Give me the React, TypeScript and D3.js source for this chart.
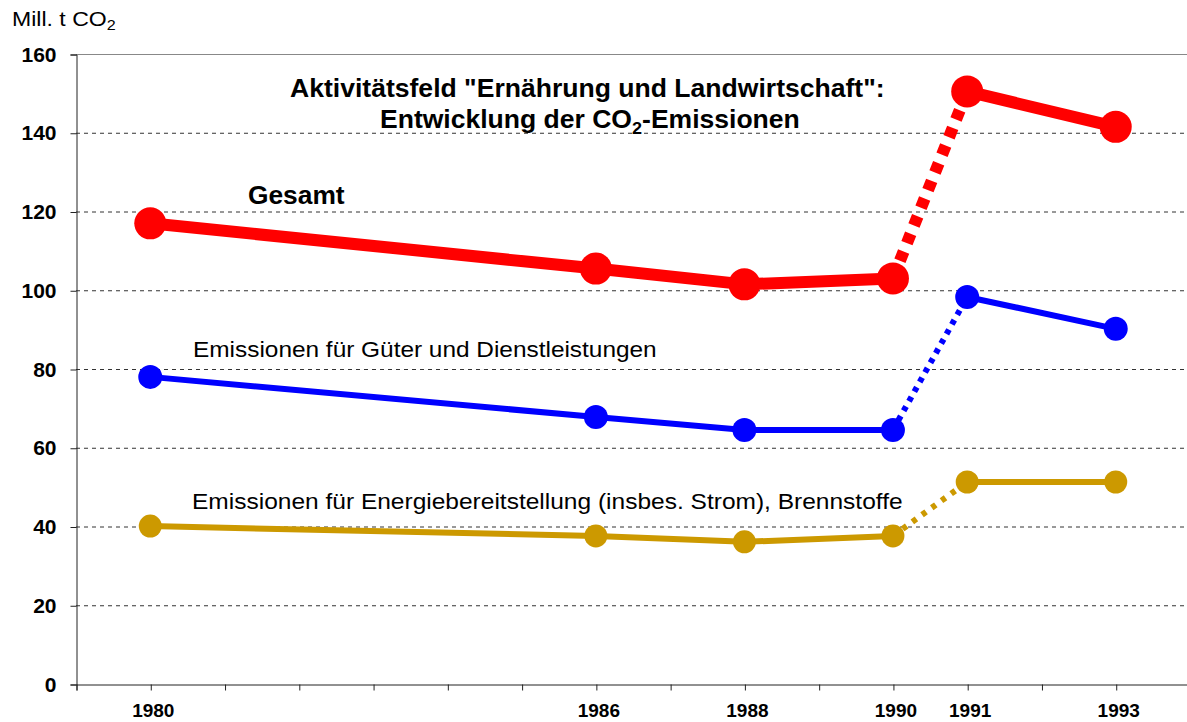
import React, { useEffect, useRef } from 'react';
import * as d3 from 'd3';

const years = [1980, 1986, 1988, 1990, 1991, 1993];
const gesamt = [117, 105.5, 101.5, 103, 150.5, 141.5];
const gueter = [78, 67.8, 64.5, 64.5, 98.3, 90.2];
const energie = [40.1, 37.6, 36.1, 37.6, 51.3, 51.3];
const yTicks = [0, 20, 40, 60, 80, 100, 120, 140, 160];

const series = [
  { name: 'Gesamt', values: gesamt, color: '#FF0000', width: 12, r: 16, dash: '10 9' },
  { name: 'Güter', values: gueter, color: '#0000FF', width: 6, r: 12, dash: '5 6' },
  { name: 'Energie', values: energie, color: '#CC9900', width: 6, r: 11.5, dash: '5 7' },
];

const FONT = 'Arial, "Liberation Sans", sans-serif';

// stretch a text horizontally so that it spans [left, left + w]
function fit(sel: d3.Selection<SVGTextElement, unknown, null, undefined>, left: number, w: number) {
  const node = sel.node();
  if (!node) return;
  const bb = node.getBBox();
  if (!bb.width) return;
  const k = w / bb.width;
  sel.attr('transform', `translate(${left},0) scale(${k},1) translate(${-bb.x},0)`);
}

export default function App() {
  const svgRef = useRef<SVGSVGElement>(null);

  useEffect(() => {
    if (!svgRef.current) return;
    const width = 1187;
    const height = 722;
    const svg = d3.select(svgRef.current).html('');

    const x = d3.scaleLinear().domain([1979, 1994]).range([76, 1190]);
    const y = d3.scaleLinear().domain([0, 160]).range([684, 54]);

    svg.append('rect').attr('width', width).attr('height', height).attr('fill', '#fff');

    // gridlines
    svg.append('g')
      .selectAll('line')
      .data(yTicks.filter(d => d > 0 && d < 160))
      .enter()
      .append('line')
      .attr('x1', 76)
      .attr('x2', width)
      .attr('y1', d => y(d) + 0.5)
      .attr('y2', d => y(d) + 0.5)
      .attr('stroke', '#333')
      .attr('stroke-width', 1)
      .attr('stroke-dasharray', '4 4');

    // top border
    svg.append('line')
      .attr('x1', 76).attr('x2', width)
      .attr('y1', y(160) + 0.5).attr('y2', y(160) + 0.5)
      .attr('stroke', '#888').attr('stroke-width', 1);

    // y axis
    const yAxis = svg.append('g')
      .attr('transform', 'translate(76.5,0.5)')
      .call(d3.axisLeft(y).tickValues(yTicks).tickSize(6).tickPadding(14));
    yAxis.select('.domain').attr('stroke', '#222');
    yAxis.selectAll('.tick line').attr('stroke', '#222');
    yAxis.selectAll('text')
      .attr('font-family', FONT)
      .attr('font-size', 21)
      .attr('font-weight', 'bold')
      .attr('fill', '#000');

    // x axis
    const tickYears = d3.range(1979, 1994);
    const xAxis = svg.append('g')
      .attr('transform', `translate(0.5,${y(0) + 0.5})`)
      .call(d3.axisBottom(x).tickValues(tickYears).tickSize(6).tickFormat(() => ''));
    xAxis.select('.domain').attr('stroke', '#222');
    xAxis.selectAll('.tick line').attr('stroke', '#222');

    svg.append('g')
      .selectAll('text')
      .data(years)
      .enter()
      .append('text')
      .attr('x', d => x(d) + 3)
      .attr('y', 717)
      .attr('text-anchor', 'middle')
      .attr('font-family', FONT)
      .attr('font-size', 19)
      .attr('font-weight', 'bold')
      .text(d => String(d));

    // series
    series.forEach(s => {
      const pts = years.map((yr, i) => [x(yr), y(s.values[i])] as [number, number]);
      const line = d3.line();
      const g = svg.append('g');
      g.append('path')
        .attr('d', line(pts.slice(0, 4)))
        .attr('fill', 'none')
        .attr('stroke', s.color)
        .attr('stroke-width', s.width);
      g.append('path')
        .attr('d', line(pts.slice(4)))
        .attr('fill', 'none')
        .attr('stroke', s.color)
        .attr('stroke-width', s.width);
      // dotted transition 1990-1991
      g.append('path')
        .attr('d', line(pts.slice(3, 5)))
        .attr('fill', 'none')
        .attr('stroke', s.color)
        .attr('stroke-width', s.width)
        .attr('stroke-dasharray', s.dash);
      g.selectAll('circle')
        .data(pts)
        .enter()
        .append('circle')
        .attr('cx', d => d[0])
        .attr('cy', d => d[1])
        .attr('r', s.r)
        .attr('fill', s.color);
    });

    // texts
    const t1 = svg.append('text')
      .attr('y', 97)
      .attr('font-family', FONT).attr('font-size', 25).attr('font-weight', 'bold')
      .text('Aktivitätsfeld "Ernährung und Landwirtschaft":');
    fit(t1, 290, 595);

    const t2 = svg.append('text')
      .attr('y', 128)
      .attr('font-family', FONT).attr('font-size', 25).attr('font-weight', 'bold');
    t2.append('tspan').text('Entwicklung der CO');
    t2.append('tspan').attr('dy', 6).attr('font-size', 17).text('2');
    t2.append('tspan').attr('dy', -6).text('-Emissionen');
    fit(t2, 380, 420);

    const ges = svg.append('text')
      .attr('y', 204)
      .attr('font-family', FONT).attr('font-size', 26).attr('font-weight', 'bold')
      .text('Gesamt');
    fit(ges, 248, 97);

    const l1 = svg.append('text')
      .attr('y', 357)
      .attr('font-family', FONT).attr('font-size', 22)
      .text('Emissionen für Güter und Dienstleistungen');
    fit(l1, 193, 464);

    const l2 = svg.append('text')
      .attr('y', 509)
      .attr('font-family', FONT).attr('font-size', 22)
      .text('Emissionen für Energiebereitstellung (insbes. Strom), Brennstoffe');
    fit(l2, 192, 711);

    const unit = svg.append('text')
      .attr('y', 26)
      .attr('font-family', FONT).attr('font-size', 20);
    unit.append('tspan').text('Mill. t CO');
    unit.append('tspan').attr('dy', 4).attr('font-size', 14).text('2');
    fit(unit, 12, 104);
  }, []);

  return (
    <svg
      ref={svgRef}
      width={1187}
      height={722}
      style={{ position: 'absolute', left: 0, top: 0, display: 'block' }}
    />
  );
}
